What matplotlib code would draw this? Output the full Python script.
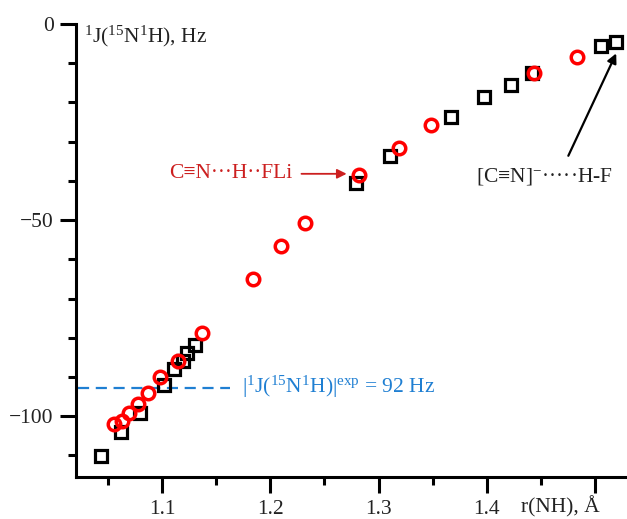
import matplotlib
matplotlib.use("Agg")
import matplotlib.pyplot as plt

plt.rcParams['font.family'] = ['Liberation Serif', 'DejaVu Serif']
plt.rcParams['mathtext.fontset'] = 'custom'
plt.rcParams['mathtext.rm'] = 'Liberation Serif'
plt.rcParams['mathtext.it'] = 'Liberation Serif:italic'

# black squares : [C≡N]- ... H-F series
r_sq = [1.043, 1.062, 1.079, 1.101, 1.111, 1.119, 1.123, 1.130,
        1.279, 1.311, 1.367, 1.398, 1.423, 1.442, 1.506, 1.520]
J_sq = [-110.1, -104.1, -99.2, -92.1, -87.9, -85.9, -84.0, -81.9,
        -40.5, -33.6, -23.6, -18.5, -15.5, -12.4, -5.5, -4.5]

# red circles : C≡N...H..FLi series
r_ci = [1.055, 1.063, 1.069, 1.077, 1.087, 1.098, 1.114, 1.137,
        1.184, 1.210, 1.232, 1.282, 1.319, 1.349, 1.444, 1.484]
J_ci = [-102.0, -101.2, -99.1, -96.9, -94.0, -89.9, -85.9, -78.9,
        -64.9, -56.7, -50.7, -38.6, -31.5, -25.7, -12.5, -8.5]

J_exp = -92.7

xticks = [1.1, 1.2, 1.3, 1.4, 1.5]
xticklabels = ['1.1', '1.2', '1.3', '1.4', '']
yticks = [0, -50, -100]
yticklabels = ['0', '\u221250', '\u2212100']

fs = 15.5
txt = '#222222'

fig = plt.figure(figsize=(6.27, 5.19), dpi=100)
ax = fig.add_axes([0.1212, 0.0809, 0.8788, 0.8729])

ax.plot(r_sq, J_sq, 's', ms=8.5, mfc='none', mec='black', mew=2.3, zorder=3)
ax.plot(r_ci, J_ci, 'o', ms=9, mfc='none', mec='#ff0000', mew=2.5, zorder=4)

# experimental value
blue = '#1f7fd2'
ax.plot([1.022, 1.163], [J_exp, J_exp], '--', color=blue, lw=1.6, dashes=(5, 3))
ax.text(1.1737, J_exp + 0.2, '|$^{1}$J($^{15}$N$^{1}$H)|$^{\\mathrm{exp}}$ = 92 Hz',
        color=blue, fontsize=fs, va='center', ha='left')

# annotations
red = '#cc1f1f'
ax.text(1.2207, -38.2, 'C\u2261N\u00b7\u00b7\u00b7H\u00b7\u00b7FLi', color=red, fontsize=fs,
        va='center', ha='right')
ax.annotate('', xy=(1.2705, -38.2), xytext=(1.2287, -38.2),
            arrowprops=dict(arrowstyle='-|>', color=red, lw=1.3, shrinkA=0, shrinkB=0,
                            mutation_scale=14))
ax.annotate('', xy=(1.520, -7.5), xytext=(1.4757, -33.6),
            arrowprops=dict(arrowstyle='-|>', color='black', lw=1.6, shrinkA=0, shrinkB=0,
                            mutation_scale=14))
ax.text(1.454, -38.9, '[C\u2261N]$^{-}$\u00b7\u00b7\u00b7\u00b7\u00b7H-F', color=txt,
        fontsize=fs, va='center', ha='center')

ax.text(1.027, -3.05, '$^{1}$J($^{15}$N$^{1}$H), Hz', fontsize=fs, color=txt,
        va='center', ha='left')
ax.text(1.4687, -123.2, 'r(NH), \u00c5', fontsize=fs, color=txt,
        va='center', ha='center', clip_on=False)

ax.set_xlim(1.02, 1.53)
ax.set_ylim(-115.5, 0)
ax.set_xticks(xticks)
ax.set_xticklabels(xticklabels)
ax.set_xticks([1.05, 1.15, 1.25, 1.35, 1.45], minor=True)
ax.set_yticks(yticks)
ax.set_yticklabels(yticklabels)
ax.set_yticks([-10, -20, -30, -40, -60, -70, -80, -90, -110], minor=True)

for s in ['top', 'right']:
    ax.spines[s].set_visible(False)
for s in ['left', 'bottom']:
    ax.spines[s].set_linewidth(2.2)
ax.tick_params(which='major', length=11.5, width=2.2, labelsize=fs, pad=4.5, colors='black',
               labelcolor=txt)
ax.tick_params(axis='x', which='major', pad=5)
ax.tick_params(which='minor', length=5.8, width=2.2)

fig.savefig('out.png', dpi=100)
